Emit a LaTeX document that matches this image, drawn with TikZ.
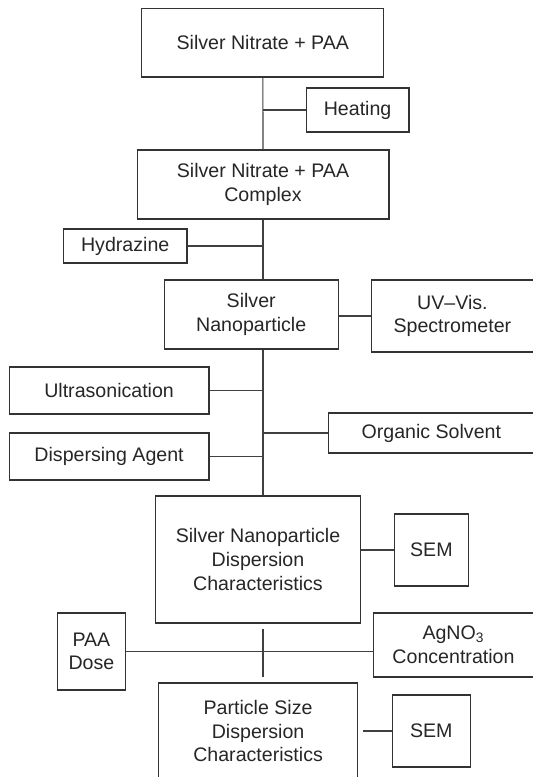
\documentclass[tikz,border=0pt]{standalone}
\usepackage{fontspec}
\setmainfont{Liberation Sans}

\begin{document}
\begin{tikzpicture}[x=0.5pt,y=-0.5pt,
  box/.style={draw=black!80, line width=0.6pt, inner sep=0pt, align=center,
    text=black!85, font=\fontsize{9.8}{11.8}\selectfont},
  link/.style={draw=black!75, line width=0.6pt}]
  \useasboundingbox (0,0) rectangle (532,777);
  \node[box, minimum width=121pt, minimum height=34.4pt] (a) at (262.8,42.6) {Silver Nitrate + PAA};
  \node[box, minimum width=51.3pt, minimum height=22pt] (heat) at (357.6,110) {Heating};
  \node[box, minimum width=125.9pt, minimum height=34.5pt] (b) at (263,184.5) {Silver Nitrate + PAA\\Complex};
  \node[box, minimum width=61.8pt, minimum height=17pt] (hyd) at (125.2,246) {Hydrazine};
  \node[box, minimum width=87pt, minimum height=34.5pt] (c) at (251.2,314.5) {Silver\\Nanoparticle};
  \node[box, minimum width=81.3pt, minimum height=36pt] (uv) at (452.4,316) {UV--Vis.\\Spectrometer};
  \node[box, minimum width=99.9pt, minimum height=23.5pt] (ultra) at (109.1,390.5) {Ultrasonication};
  \node[box, minimum width=102.5pt, minimum height=20pt] (org) at (431.3,433) {Organic Solvent};
  \node[box, minimum width=99.9pt, minimum height=23.5pt] (disp) at (109.1,456.5) {Dispersing Agent};
  \node[box, minimum width=102.7pt, minimum height=63.5pt] (d) at (258,559.5) {Silver Nanoparticle\\Dispersion\\Characteristics};
  \node[box, minimum width=37.2pt, minimum height=36pt] (sem1) at (431.4,550) {SEM};
  \node[box, minimum width=33.8pt, minimum height=38.5pt] (paa) at (91.4,651.5) {PAA\\Dose};
  \node[box, minimum width=80.3pt, minimum height=32pt] (ag) at (453.5,645) {AgNO\textsubscript{3}\\Concentration};
  \node[box, minimum width=99.6pt, minimum height=48pt] (e) at (258.1,731) {Particle Size\\Dispersion\\Characteristics};
  \node[box, minimum width=39pt, minimum height=36pt] (sem2) at (431.3,731) {SEM};

  % main line
  \draw[link] (a) -- (b);
  \draw[link] (b.south) -- (b.south |- c.north);
  \draw[link] (b.south |- c.south) -- (b.south |- d.north);
  \draw[link, shorten >=2.5pt, shorten <=2.5pt] (b.south |- d.south) -- (b.south |- e.north);

  % side branches
  \draw[link] (heat.west) -- (heat.west -| a.south);
  \draw[link] (hyd.east) -- (hyd.east -| b.south);
  \draw[link] (uv.west) -- (uv.west -| c.east);
  \draw[link] (ultra.east) -- (ultra.east -| b.south);
  \draw[link] (org.west) -- (org.west -| b.south);
  \draw[link] (disp.east) -- (disp.east -| b.south);
  \draw[link] (sem1.west) -- (sem1.west -| d.east);
  \draw[link] (paa.east) -- (paa.east -| ag.west);
  \draw[link, shorten >=2.5pt] (sem2.west) -- (sem2.west -| e.east);
\end{tikzpicture}
\end{document}
